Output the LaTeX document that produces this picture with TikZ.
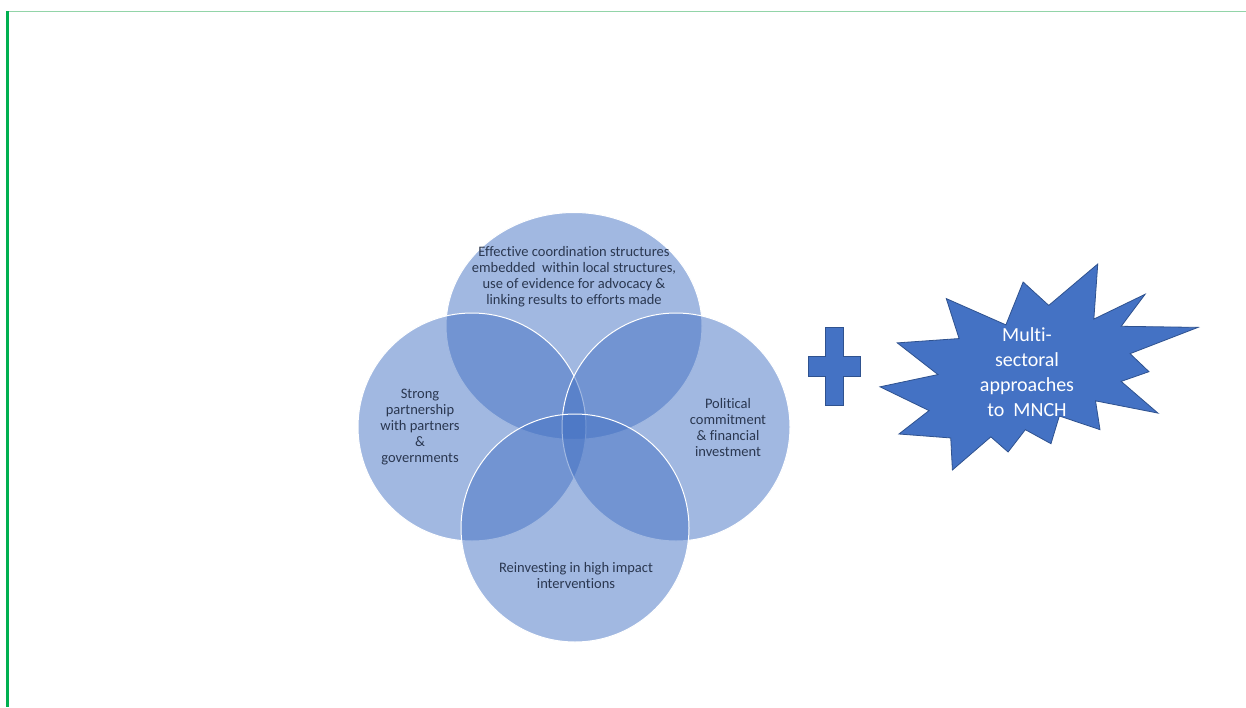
\documentclass[tikz,border=0pt]{standalone}
\usepackage{fontspec}
\setmainfont{Carlito}[Ligatures=NoCommon]
\usetikzlibrary{shapes.geometric}

\definecolor{vennblue}{HTML}{4472C4}
\definecolor{vennline}{HTML}{2F528F}
\definecolor{venntext}{HTML}{2A3750}
\definecolor{framegreen}{HTML}{00B050}
\definecolor{rulegreen}{HTML}{92D4A8}

\tikzset{
  venn/.style={fill=vennblue, fill opacity=0.5, draw=white, line width=1pt, inner sep=0pt},
  venntxt/.style={align=center, text=venntext, font=\fontsize{14.5}{16}\selectfont},
  burst/.style={fill=vennblue, draw=vennline, line width=0.8pt},
}

\begin{document}
\begin{tikzpicture}[x=1pt,y=-1pt]
\useasboundingbox[fill=white] (0,0) rectangle (1246,707);
% frame of the page
\draw[rulegreen, line width=1pt] (6,11) -- (1246,11);
\fill[framegreen] (5.5,11) rectangle (8.5,707);

% four overlapping rings
\node (top) at (574,326) [venn, ellipse, minimum width=256pt, minimum height=227pt] {};
\node (left) at (472,427) [venn, circle, minimum size=228pt] {};
\node (right) at (676,427) [venn, circle, minimum size=228pt] {};
\node (bottom) at (575,528) [venn, circle, minimum size=228pt] {};

\node (toptxt) at (574,277) [venntxt] {Effective coordination structures\\embedded\ \ within local structures,\\use of evidence for advocacy \&\\linking results to efforts made};
\node (lefttxt) at (420,427) [venntxt] {Strong\\partnership\\with partners\\\&\\governments};
\node (righttxt) at (728,428) [venntxt] {Political\\commitment\\\& financial\\investment};
\node (bottomtxt) at (576,576) [venntxt] {Reinvesting in high impact\\interventions};

% plus sign
\draw[burst] (825,327) -- (843,327) -- (843,356) -- (860,356) -- (860,376) -- (843,376)
  -- (843,405) -- (825,405) -- (825,376) -- (808,376) -- (808,356) -- (825,356) -- cycle;

% explosion
\begin{scope}[shift={(880,264)}, xscale=1.4722, yscale=0.9537]
\draw[burst] (114.62,43.42) -- (147.90,0) -- (145.25,57.77) -- (180.07,31.72) -- (163.80,65.32)
  -- (216.00,66.45) -- (169.85,94.02) -- (182.70,112.90) -- (163.80,123.10) -- (188.77,156.32)
  -- (146.40,143.50) -- (149.42,173.70) -- (121.80,159.35) -- (116.12,188.42) -- (98.72,173.70)
  -- (87.00,197.12) -- (75.27,181.25) -- (49.17,216.00) -- (48.05,182.40) -- (12.85,178.25)
  -- (33.30,153.70) -- (0,128.77) -- (39.35,115.92) -- (11.72,82.70) -- (53.72,78.17)
  -- (45.02,36.25) -- (85.50,63.82) -- (97.22,18.87) -- cycle;
\end{scope}
\node (startxt) at (1027,372) [align=center, text=white, font=\fontsize{20}{25}\selectfont] {Multi-\\sectoral\\approaches\\to\ \ MNCH};
\end{tikzpicture}
\end{document}
